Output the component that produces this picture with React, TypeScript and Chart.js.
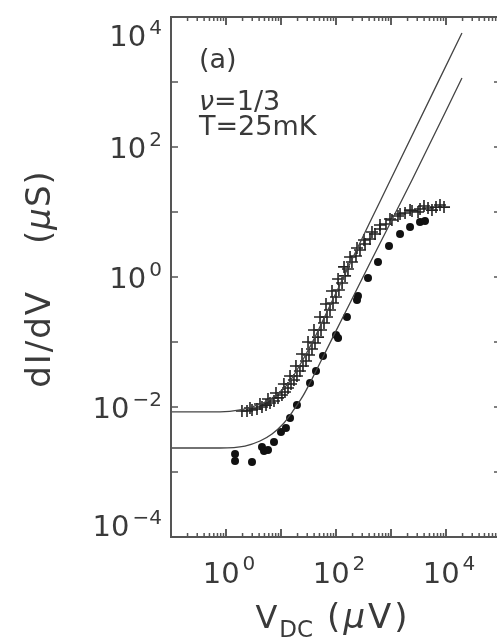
import React, { useEffect, useRef } from "react";
import { Chart, registerables } from "chart.js";

Chart.register(...registerables);

// ---- data (V_DC in µV, dI/dV in µS) ----
const crossV = [1.95, 2.41, 2.97, 3.66, 4.51, 5.34, 6.31, 7.46, 8.82, 10.4, 11.8, 13.4, 15.2, 17.2, 19.5, 22.1, 25.1, 28.5, 32.3, 36.6, 41.5, 47.1, 53.4, 60.5, 68.6, 77.8, 88.2, 100, 113, 129, 146, 165, 195, 231, 273, 337, 415, 512, 631, 811, 1040, 1340, 1800, 2410, 3370, 4710, 6580, 9200];
const crossG = [0.0087, 0.0087, 0.009, 0.0093, 0.01, 0.0107, 0.0115, 0.0124, 0.0138, 0.0153, 0.017, 0.0196, 0.0226, 0.026, 0.03, 0.0358, 0.0428, 0.051, 0.0631, 0.078, 0.0966, 0.119, 0.153, 0.196, 0.243, 0.311, 0.398, 0.492, 0.631, 0.809, 1.04, 1.33, 1.7, 2.1, 2.6, 3.22, 3.84, 4.59, 5.47, 6.54, 7.53, 8.67, 9.66, 10.4, 11.1, 11.5, 11.9, 11.9];

const cross2V = [2.73, 4.15, 5.8, 8.11, 11.3, 14.6, 18.7, 24.1, 31.0, 39.8, 51.2, 65.8, 84.6, 109, 140, 180, 241, 323, 451, 631, 959, 1460, 2220, 3100, 3980, 5560, 7780];
const cross2G = [0.00966, 0.0111, 0.0133, 0.0164, 0.0226, 0.03, 0.0428, 0.0654, 0.1, 0.153, 0.243, 0.385, 0.609, 0.931, 1.43, 2.03, 2.79, 3.71, 4.92, 6.31, 7.8, 9.31, 10.7, 10.0, 12.4, 10.7, 12.8];

const dotV = [1.46, 1.46, 2.97, 4.51, 4.91, 5.8, 7.46, 10.0, 12.3, 14.6, 19.5, 33.7, 43.3, 58.0, 100, 109, 158, 241, 251, 382, 580, 920, 1460, 2220, 3370, 4150];
const dotG = [0.00189, 0.00148, 0.00143, 0.00243, 0.0021, 0.00218, 0.0029, 0.00412, 0.00475, 0.00678, 0.0107, 0.0234, 0.0358, 0.0609, 0.128, 0.115, 0.243, 0.443, 0.51, 0.966, 1.7, 3.0, 4.59, 5.88, 7.02, 7.27];

const fitUpperV = [0.1, 0.778, 1.8, 3.37, 5.12, 7.78, 10.9, 14.6, 19.5, 27.3, 41.5, 63.1, 95.9, 146, 251, 415, 882, 19500];
const fitUpperG = [0.0084, 0.0084, 0.009, 0.0104, 0.0119, 0.0148, 0.0189, 0.0251, 0.0371, 0.0609, 0.119, 0.251, 0.528, 1.11, 2.9, 7.02, 26.0, 5680];

const fitLowerV = [0.1, 0.778, 2.21, 4.15, 6.86, 10.9, 16.5, 25.1, 36.6, 55.6, 95.9, 180, 415, 2410, 19500];
const fitLowerG = [0.00234, 0.00234, 0.00251, 0.003, 0.00385, 0.00548, 0.00868, 0.0148, 0.027, 0.0547, 0.138, 0.398, 1.64, 31.0, 1150];

const xTickExps = [0, 2, 4];
const yTickExps = [-4, -2, 0, 2, 4];
const xMinorDecades = [-1, 0, 1, 2, 3, 4];
const yMajorExps = [-4, -3, -2, -1, 0, 1, 2, 3, 4];
const xRange = [0.1, 1e5];
const yRange = [1e-4, 1e4];
const annotationLines = ["(a)", "ν=1/3", "T=25mK"];

const FONT = '"DejaVu Sans", "Liberation Sans", sans-serif';
const INK = "#3a3a3a";

function pts(xs: number[], ys: number[]) {
  return xs.map((x, i) => ({ x, y: ys[i] }));
}

function expStr(e: number) {
  return e < 0 ? "\u2212" + Math.abs(e) : String(e);
}

function drawPow(ctx: CanvasRenderingContext2D, e: number, x: number, base: number, align: "right" | "center", supRise: number) {
  ctx.font = `29px ${FONT}`;
  const w1 = ctx.measureText("10").width;
  ctx.font = `20px ${FONT}`;
  const es = expStr(e);
  const w2 = ctx.measureText(es).width;
  const gap = 3;
  const total = w1 + gap + w2;
  const left = align === "right" ? x - total : x - total / 2;
  ctx.textAlign = "left";
  ctx.textBaseline = "alphabetic";
  ctx.font = `29px ${FONT}`;
  ctx.fillText("10", left, base);
  ctx.font = `20px ${FONT}`;
  ctx.fillText(es, left + w1 + gap, base - supRise);
}

const framePlugin = {
  id: "frame",
  afterDraw(chart: any) {
    const { ctx, chartArea: ca, scales } = chart;
    const xs = scales.x;
    const ys = scales.y;
    ctx.save();
    ctx.strokeStyle = "#555";
    ctx.lineWidth = 2;
    ctx.strokeRect(ca.left, ca.top, ca.right - ca.left, ca.bottom - ca.top);

    ctx.lineWidth = 1.5;
    const seg = (x1: number, y1: number, x2: number, y2: number) => {
      ctx.beginPath();
      ctx.moveTo(x1, y1);
      ctx.lineTo(x2, y2);
      ctx.stroke();
    };
    for (const d of xMinorDecades) {
      for (let m = 1; m <= 10; m++) {
        const v = m * Math.pow(10, d);
        const px = xs.getPixelForValue(v);
        if (px < ca.left || px > ca.right) continue;
        const len = m === 1 || m === 10 ? 8 : 4;
        seg(px, ca.bottom, px, ca.bottom - len);
        seg(px, ca.top, px, ca.top + len);
      }
    }
    for (const e of yMajorExps) {
      const py = ys.getPixelForValue(Math.pow(10, e));
      seg(ca.left, py, ca.left + 7, py);
      seg(ca.right, py, ca.right - 7, py);
    }

    ctx.fillStyle = INK;
    for (const e of yTickExps) {
      const py = ys.getPixelForValue(Math.pow(10, e));
      const cy = Math.min(Math.max(py, ca.top + 18), ca.bottom - 12);
      drawPow(ctx, e, ca.left - 9, cy + 11, "right", 12);
    }
    for (const e of xTickExps) {
      const px = xs.getPixelForValue(Math.pow(10, e));
      drawPow(ctx, e, px + 3, ca.bottom + 46, "center", 13);
    }

    // y title
    const cy = (ca.top + ca.bottom) / 2;
    ctx.save();
    ctx.translate(50, cy + 2);
    ctx.rotate(-Math.PI / 2);
    ctx.textBaseline = "alphabetic";
    ctx.textAlign = "left";
    ctx.font = `34px ${FONT}`;
    (ctx as any).letterSpacing = "2px";
    const wA = ctx.measureText("dI/dV").width;
    const gapT = 46;
    (ctx as any).letterSpacing = "1px";
    const wP = ctx.measureText("(").width;
    const wS = ctx.measureText("S)").width;
    ctx.font = `italic 34px ${FONT}`;
    const wMu = ctx.measureText("μ").width;
    const totalT = wA + gapT + wP + wMu + wS;
    let tx = -totalT / 2;
    ctx.font = `34px ${FONT}`;
    (ctx as any).letterSpacing = "2px";
    ctx.fillText("dI/dV", tx, 0);
    tx += wA + gapT;
    (ctx as any).letterSpacing = "1px";
    ctx.fillText("(", tx, 0);
    tx += wP;
    ctx.font = `italic 34px ${FONT}`;
    ctx.fillText("μ", tx, 0);
    tx += wMu;
    ctx.font = `34px ${FONT}`;
    ctx.fillText("S)", tx, 0);
    ctx.restore();

    // x title
    ctx.save();
    ctx.textAlign = "left";
    ctx.textBaseline = "alphabetic";
    const bx = ca.bottom + 91;
    ctx.font = `32px ${FONT}`;
    const wV = ctx.measureText("V").width;
    ctx.font = `23px ${FONT}`;
    const wDC = ctx.measureText("DC").width;
    ctx.font = `34px ${FONT}`;
    (ctx as any).letterSpacing = "3px";
    const wPar = ctx.measureText("(").width;
    const wV2 = ctx.measureText("V)").width;
    ctx.font = `italic 34px ${FONT}`;
    const wMu2 = ctx.measureText("μ").width;
    (ctx as any).letterSpacing = "0px";
    const gapX = 14;
    const totalX = wV + 2 + wDC + gapX + wPar + wMu2 + wV2;
    let xx = (ca.left + ca.right) / 2 - 3 - totalX / 2;
    ctx.font = `32px ${FONT}`;
    ctx.fillText("V", xx, bx);
    xx += wV + 2;
    ctx.font = `23px ${FONT}`;
    ctx.fillText("DC", xx, bx + 9);
    xx += wDC + gapX;
    ctx.font = `34px ${FONT}`;
    (ctx as any).letterSpacing = "3px";
    ctx.fillText("(", xx, bx);
    xx += wPar;
    ctx.font = `italic 34px ${FONT}`;
    ctx.fillText("μ", xx, bx);
    xx += wMu2;
    ctx.font = `34px ${FONT}`;
    ctx.fillText("V)", xx, bx);
    ctx.restore();

    // annotations
    ctx.textAlign = "left";
    ctx.textBaseline = "alphabetic";
    const ax = ca.left + 28;
    const baselines = [ca.top + 51, ca.top + 93, ca.top + 118];
    annotationLines.forEach((t, i) => {
      if (t.startsWith("ν")) {
        ctx.font = `italic 27px ${FONT}`;
        ctx.fillText("ν", ax, baselines[i]);
        const w = ctx.measureText("ν").width;
        ctx.font = `27px ${FONT}`;
        ctx.fillText(t.slice(1), ax + w, baselines[i]);
      } else {
        ctx.font = `27px ${FONT}`;
        ctx.fillText(t, ax, baselines[i]);
      }
    });
    ctx.restore();
  },
};

export default function App() {
  const ref = useRef<HTMLCanvasElement | null>(null);
  useEffect(() => {
    if (!ref.current) return;
    const crossStyle = {
      pointStyle: "cross",
      pointRadius: 6,
      borderWidth: 1.6,
      borderColor: "#222",
      backgroundColor: "#222",
    };
    const chart = new Chart(ref.current, {
      type: "scatter",
      data: {
        datasets: [
          {
            label: "fit upper",
            data: pts(fitUpperV, fitUpperG),
            showLine: true,
            borderColor: "#444",
            borderWidth: 1.3,
            pointRadius: 0,
            cubicInterpolationMode: "monotone",
          },
          {
            label: "fit lower",
            data: pts(fitLowerV, fitLowerG),
            showLine: true,
            borderColor: "#444",
            borderWidth: 1.3,
            pointRadius: 0,
            cubicInterpolationMode: "monotone",
          },
          { label: "crosses", data: pts(crossV, crossG), ...crossStyle },
          { label: "crosses 2", data: pts(cross2V, cross2G), ...crossStyle },
          {
            label: "dots",
            data: pts(dotV, dotG),
            pointStyle: "circle",
            pointRadius: 4,
            borderWidth: 0,
            backgroundColor: "#111",
            borderColor: "#111",
          },
        ],
      },
      options: {
        animation: false,
        responsive: false,
        devicePixelRatio: 1,
        layout: { padding: { left: 171, right: 19, top: 17, bottom: 105 } },
        plugins: { legend: { display: false }, tooltip: { enabled: false }, title: { display: false } },
        scales: {
          x: { type: "logarithmic", min: xRange[0], max: xRange[1], display: false },
          y: { type: "logarithmic", min: yRange[0], max: yRange[1], display: false },
        },
      },
      plugins: [framePlugin],
    } as any);
    return () => chart.destroy();
  }, []);
  return (
    <div style={{ position: "fixed", left: 0, top: 0, width: 497, height: 642, overflow: "hidden", background: "#fff" }}>
      <canvas ref={ref} width={520} height={642} style={{ display: "block", width: 520, height: 642 }} />
    </div>
  );
}
